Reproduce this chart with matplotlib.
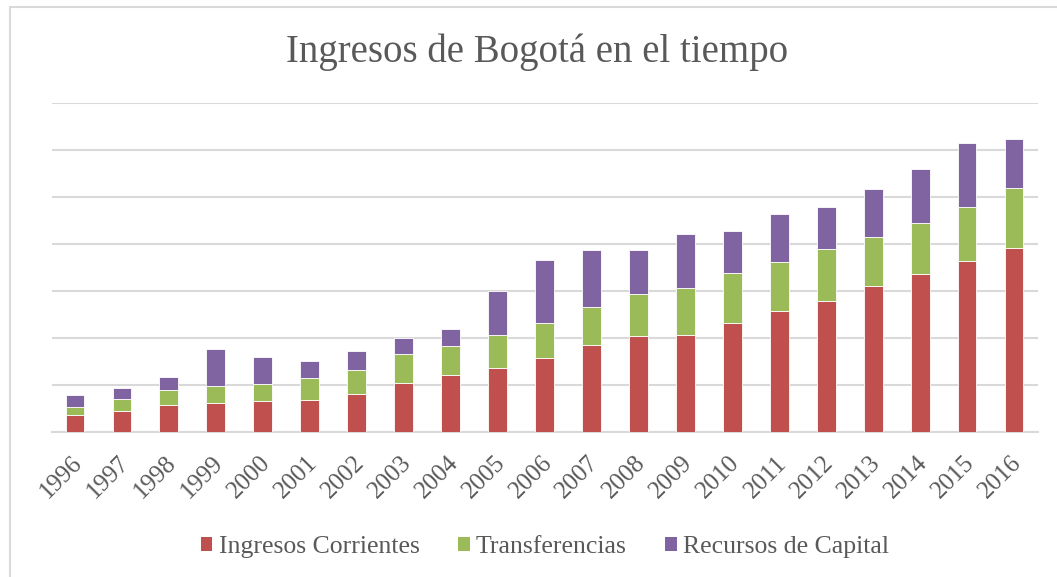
import matplotlib
matplotlib.use("Agg")
import matplotlib.pyplot as plt
import matplotlib.transforms as mtransforms
from matplotlib.patches import Rectangle, Patch
import numpy as np

years = [str(y) for y in range(1996, 2017)]
ingresos_corrientes = [0.36, 0.45, 0.57, 0.62, 0.66, 0.68, 0.80, 1.04, 1.21, 1.36, 1.57,
                       1.85, 2.04, 2.06, 2.32, 2.57, 2.79, 3.10, 3.36, 3.64, 3.91]
transferencias = [0.17, 0.26, 0.33, 0.36, 0.37, 0.47, 0.51, 0.61, 0.63, 0.70, 0.75,
                  0.81, 0.89, 1.00, 1.06, 1.04, 1.10, 1.04, 1.09, 1.15, 1.29]
recursos_capital = [0.25, 0.23, 0.28, 0.78, 0.57, 0.37, 0.42, 0.36, 0.35, 0.94, 1.34,
                    1.22, 0.94, 1.16, 0.90, 1.02, 0.90, 1.02, 1.15, 1.36, 1.03]
series_names = ["Ingresos Corrientes", "Transferencias", "Recursos de Capital"]
colors = ["#C0504D", "#9BBB59", "#8064A2"]
title = "Ingresos de Bogotá en el tiempo"

plt.rcParams['font.family'] = ['Liberation Serif', 'DejaVu Serif']
text_color = "#595959"
grid_color = "#D9D9D9"

W, H = 1057, 577
fig = plt.figure(figsize=(W / 100, H / 100), dpi=100)
ax = fig.add_axes([51.5 / W, 1 - 432 / H, 986 / W, 329 / H])

x = np.arange(len(years))
bottoms = np.zeros(len(years))
for vals, c in zip([ingresos_corrientes, transferencias, recursos_capital], colors):
    ax.bar(x, vals, width=0.40, bottom=bottoms, color=c, edgecolor="white",
           linewidth=0.6, zorder=3)
    bottoms = bottoms + np.array(vals)

ax.set_xlim(-0.5, len(years) - 0.5)
ax.set_ylim(0, 7)
ax.set_yticks(np.arange(0, 8, 1))
ax.yaxis.grid(True, color=grid_color, linewidth=1.5, zorder=0)
ax.tick_params(axis='y', left=False, labelleft=False)
ax.tick_params(axis='x', length=0, pad=20, labelsize=18, labelcolor=text_color)
for s in ["top", "right", "left"]:
    ax.spines[s].set_visible(False)
ax.spines["bottom"].set_color(grid_color)
ax.spines["bottom"].set_linewidth(1.5)
ax.set_xticks(x)
ax.set_xticklabels(years, rotation=45, ha='right', va='center', rotation_mode='anchor')
offset = mtransforms.ScaledTranslation(4 / 100, 0, fig.dpi_scale_trans)
for lbl in ax.get_xticklabels():
    lbl.set_transform(lbl.get_transform() + offset)

fig.text(537.5 / W, 1 - 62 / H, title, ha='center', va='baseline',
         fontsize=28, color=text_color)

handles = [Patch(facecolor=c, edgecolor='none') for c in colors]
leg = fig.legend(handles, series_names, loc='center', bbox_to_anchor=(545 / W, 1 - 547 / H),
                 ncol=3, frameon=False, fontsize=18.5, handlelength=0.45, handleheight=0.45,
                 handletextpad=0.25, columnspacing=1.5, borderaxespad=0)
for t in leg.get_texts():
    t.set_color(text_color)

fig.patches.append(Rectangle((9.5 / W, -0.1), 2, 0.1 + (H - 6.5) / H, transform=fig.transFigure,
                             fill=False, edgecolor=grid_color, linewidth=1.5))

fig.savefig("out.png", dpi=100)
